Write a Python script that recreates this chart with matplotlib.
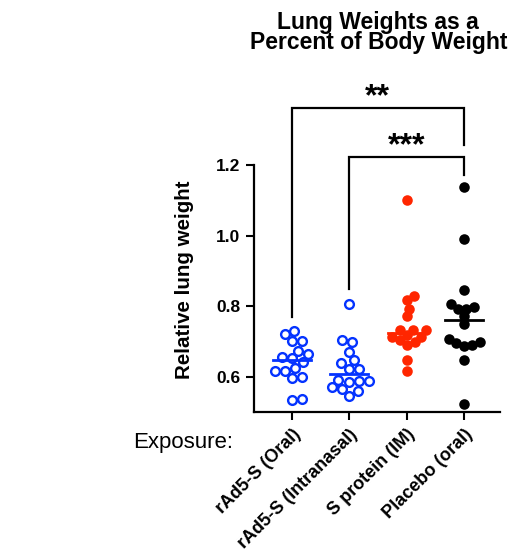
import numpy as np
import matplotlib.pyplot as plt

plt.rcParams['font.family'] = ['Liberation Sans', 'DejaVu Sans']

# Відносна вага легень по групах
groups = ["rAd5-S (Oral)", "rAd5-S (Intranasal)", "S protein (IM)", "Placebo (oral)"]
oral = [0.535, 0.537, 0.596, 0.600, 0.617, 0.617, 0.625, 0.641,
        0.653, 0.657, 0.665, 0.674, 0.700, 0.702, 0.720, 0.729]
intranasal = [0.546, 0.560, 0.565, 0.570, 0.584, 0.589, 0.589, 0.591,
              0.622, 0.622, 0.638, 0.646, 0.671, 0.698, 0.704, 0.807]
s_protein = [0.617, 0.646, 0.691, 0.698, 0.704, 0.712, 0.712, 0.717,
             0.731, 0.731, 0.731, 0.771, 0.793, 0.816, 0.828, 1.101]
placebo = [0.524, 0.647, 0.688, 0.691, 0.695, 0.698, 0.707, 0.748,
           0.771, 0.793, 0.793, 0.797, 0.807, 0.845, 0.989, 1.137]
values = [oral, intranasal, s_protein, placebo]
colors = ["#0433FF", "#0433FF", "#FF2600", "#000000"]
filled = [False, False, True, True]

# Порівняння: (група 1, група 2, текст)
comparisons = [(0, 3, "**"), (1, 3, "***")]

W, H = 520, 560
fig = plt.figure(figsize=(W / 100, H / 100), dpi=100)
ax = fig.add_axes([254 / W, 1 - 412 / H, 246 / W, 247 / H])
ax.set_xlim(-0.66, 3.63)
ax.set_ylim(0.5, 1.2)

# пікселів на одиницю даних
px_x = 246 / (3.63 + 0.66)
px_y = 247 / 0.7


def swarm_offsets(vals, diam):
    """Проста розкладка точок без перекриття (beeswarm)."""
    placed = []
    offs = np.zeros(len(vals))
    order = np.argsort(vals)
    for i in order:
        y = vals[i] * px_y
        for step in range(0, 200):
            cand = [0.0] if step == 0 else [step * 0.5, -step * 0.5]
            ok_x = None
            for c in cand:
                if all((c - px) ** 2 + (y - py) ** 2 >= diam ** 2 for px, py in placed):
                    ok_x = c
                    break
            if ok_x is not None:
                break
        placed.append((ok_x, y))
        offs[i] = ok_x / px_x
    return offs


for i, vals in enumerate(values):
    offs = swarm_offsets(vals, 8.0 if filled[i] else 9.8)
    xs = i + offs
    if filled[i]:
        ax.plot(xs, vals, 'o', color=colors[i], ms=7.6, mew=0, clip_on=False, zorder=3)
    else:
        ax.plot(xs, vals, 'o', mfc='white', mec=colors[i], ms=6.3, mew=1.7,
                clip_on=False, zorder=3)
    med = np.median(vals)
    ax.plot([i - 0.33, i + 0.33], [med, med], color=colors[i], lw=2, zorder=4)

# Дужки значущості
brackets = [(1.362, 0.768, 1.257), (1.223, 0.850, 1.172)]
for (a, b, txt), (top, left_end, right_end) in zip(comparisons, brackets):
    ax.plot([a, a, b, b], [left_end, top, top, right_end], color='black', lw=1.6,
            clip_on=False, solid_joinstyle='miter')
    ax.annotate(txt, xy=((a + b) / 2, top), xytext=(0, 2), textcoords='offset points',
                ha='center', va='baseline', fontsize=23, fontweight='bold',
                annotation_clip=False)

ax.set_xticks(range(len(groups)))
ax.set_xticklabels(groups, rotation=45, ha='right', rotation_mode='anchor',
                   fontsize=13, fontweight='bold')
ax.set_yticks([0.6, 0.8, 1.0, 1.2])
ax.set_yticklabels(["0.6", "0.8", "1.0", "1.2"], fontsize=12.5, fontweight='bold')
ax.tick_params(width=1.5, length=6, pad=4)

for s in ['top', 'right']:
    ax.spines[s].set_visible(False)
for s in ['left', 'bottom']:
    ax.spines[s].set_linewidth(1.6)

fig.text(185 / W, 1 - 280 / H, "Relative lung weight", rotation=90,
         ha='center', va='center', fontsize=14.8, fontweight='bold')
fig.text(378 / W, 1 - 28.5 / H, "Lung Weights as a", ha='center', va='baseline',
         fontsize=16.5, fontweight='bold')
fig.text(379 / W, 1 - 49.5 / H, "Percent of Body Weight", ha='center', va='baseline',
         fontsize=16.5, fontweight='bold')
fig.text(133 / W, 1 - 448 / H, "Exposure:", ha='left', va='baseline', fontsize=16)

plt.savefig("out.png", dpi=100, facecolor='white')
